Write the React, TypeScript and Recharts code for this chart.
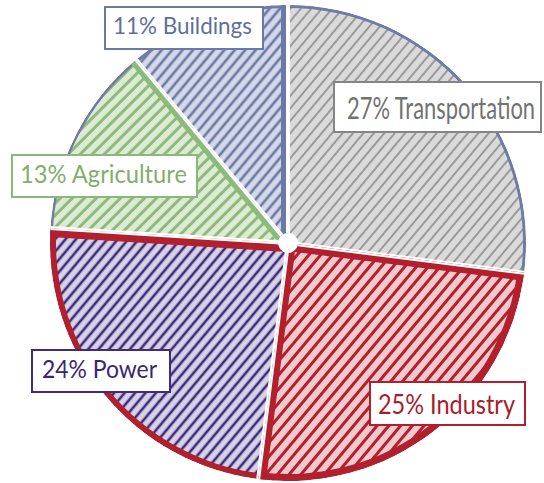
import React from 'react';
import { PieChart, Pie, Sector } from 'recharts';

// sector shares, clockwise from 12 o'clock
const categories = ['Transportation', 'Industry', 'Power', 'Agriculture', 'Buildings'];
const shares = [27, 25, 24, 13, 11];

const data = categories.map((name, i) => ({ name, value: shares[i] }));

const GAP = 4;
const RAD = Math.PI / 180;

type Edge = { color: string; width: number } | null;

interface SliceStyle {
  bg: string;
  line: string;
  lineWidth: number;
  spacing: number;
  rotate: number;
  arc: string;
  arcWidth: number;
  startEdge: Edge;
  endEdge: Edge;
}

const SLICE_STYLES: SliceStyle[] = [
  { bg: '#dadada', line: '#8a8a8a', lineWidth: 1.6, spacing: 8, rotate: 40, arc: '#6e7ba6', arcWidth: 3, startEdge: null, endEdge: null },
  { bg: '#f2cacd', line: '#b21f2d', lineWidth: 3, spacing: 9, rotate: 40, arc: '#b21f2d', arcWidth: 7, startEdge: { color: '#b21f2d', width: 6 }, endEdge: { color: '#b21f2d', width: 6 } },
  { bg: '#d7d3e6', line: '#3f2a7c', lineWidth: 2.6, spacing: 8, rotate: 40, arc: '#b21f2d', arcWidth: 6, startEdge: null, endEdge: { color: '#b21f2d', width: 7 } },
  { bg: '#ddebd4', line: '#8cba7a', lineWidth: 3, spacing: 8.5, rotate: 45, arc: '#6e7ba6', arcWidth: 2.5, startEdge: null, endEdge: { color: '#8cba7a', width: 5 } },
  { bg: '#d4d8e7', line: '#6a79a6', lineWidth: 2.6, spacing: 8, rotate: 40, arc: '#6e7ba6', arcWidth: 3, startEdge: null, endEdge: { color: '#6a79a6', width: 5 } },
];

// label boxes (same order as categories); sy stretches the text vertically
const LABEL_LAYOUT = [
  { x: 334, y: 82, w: 207, h: 50, tx: 347, ty: 119, tw: 188, fs: 23, sy: 1.3, color: '#858585', text: '#727272' },
  { x: 370, y: 382, w: 155, h: 43, tx: 378, ty: 414, tw: 137, fs: 27, sy: 1, color: '#b01f2b', text: '#a81c2a' },
  { x: 32, y: 350, w: 138, h: 42, tx: 42, ty: 378, tw: 115, fs: 25, sy: 1, color: '#3f2b7a', text: '#3a2774' },
  { x: 12, y: 155, w: 185, h: 42, tx: 20, ty: 183, tw: 167, fs: 25, sy: 1, color: '#8ab87a', text: '#7fb06a' },
  { x: 105, y: 7, w: 158, h: 42, tx: 113, ty: 34, tw: 139, fs: 24, sy: 1, color: '#6a79a6', text: '#5f6e9c' },
];

const polar = (cx: number, cy: number, r: number, angle: number) => ({
  x: cx + r * Math.cos(-angle * RAD),
  y: cy + r * Math.sin(-angle * RAD),
});

const HatchedSlice = (props: any) => {
  const { cx, cy, innerRadius, outerRadius, startAngle, endAngle, index } = props;
  const s = SLICE_STYLES[index];
  const clipId = `slice-clip-${index}`;
  const geom = { cx, cy, startAngle, endAngle };

  const edge = (angle: number, color: string, width: number, key: string) => {
    const p = polar(cx, cy, outerRadius + 12, angle);
    return <line key={key} x1={cx} y1={cy} x2={p.x} y2={p.y} stroke={color} strokeWidth={width} />;
  };

  return (
    <g>
      <defs>
        <clipPath id={clipId}>
          <Sector {...geom} innerRadius={innerRadius} outerRadius={outerRadius} />
        </clipPath>
      </defs>
      <g clipPath={`url(#${clipId})`}>
        <Sector {...geom} innerRadius={innerRadius} outerRadius={outerRadius} fill={`url(#hatch-${index})`} stroke="none" />
        <Sector {...geom} innerRadius={outerRadius - s.arcWidth} outerRadius={outerRadius} fill={s.arc} stroke="none" />
        {s.startEdge && edge(startAngle, s.startEdge.color, GAP + 2 * s.startEdge.width, 'se')}
        {s.endEdge && edge(endAngle, s.endEdge.color, GAP + 2 * s.endEdge.width, 'ee')}
        {edge(startAngle, '#ffffff', GAP, 'gs')}
        {edge(endAngle, '#ffffff', GAP, 'ge')}
      </g>
    </g>
  );
};

const LabelBox = (props: any) => {
  const { index, value } = props;
  const name = props.payload?.name ?? props.name;
  const l = LABEL_LAYOUT[index];
  return (
    <g>
      <rect x={l.x} y={l.y} width={l.w} height={l.h} fill="#ffffff" stroke={l.color} strokeWidth={2} />
      <text
        x={0}
        y={0}
        transform={`translate(${l.tx} ${l.ty}) scale(1 ${l.sy})`}
        fontSize={l.fs}
        fill={l.text}
        fontFamily="Lato, 'Noto Sans', sans-serif"
        textLength={l.tw}
        lengthAdjust="spacingAndGlyphs"
      >
        {`${value}% ${name}`}
      </text>
    </g>
  );
};

const EmissionsPie: React.FC = () => {
  return (
    <div style={{ position: 'absolute', left: 0, top: 0, width: 544, height: 483, background: '#ffffff' }}>
      <PieChart width={544} height={483} margin={{ top: 0, right: 0, bottom: 0, left: 0 }}>
        <defs>
          {SLICE_STYLES.map((s, i) => (
            <pattern
              key={i}
              id={`hatch-${i}`}
              width={s.spacing}
              height={s.spacing}
              patternUnits="userSpaceOnUse"
              patternTransform={`rotate(${s.rotate})`}
            >
              <rect width={s.spacing} height={s.spacing} fill={s.bg} />
              <line x1={s.spacing / 2} y1={0} x2={s.spacing / 2} y2={s.spacing} stroke={s.line} strokeWidth={s.lineWidth} />
            </pattern>
          ))}
        </defs>
        <Pie
          data={data}
          dataKey="value"
          nameKey="name"
          cx={288}
          cy={243}
          innerRadius={10}
          outerRadius={238}
          startAngle={90}
          endAngle={-270}
          fill="none"
          stroke="none"
          label={HatchedSlice}
          labelLine={false}
          isAnimationActive={false}
        />
        <Pie
          data={data}
          dataKey="value"
          nameKey="name"
          cx={288}
          cy={243}
          innerRadius={10}
          outerRadius={238}
          startAngle={90}
          endAngle={-270}
          fill="none"
          stroke="none"
          label={LabelBox}
          labelLine={false}
          isAnimationActive={false}
        />
      </PieChart>
    </div>
  );
};

export default function App() {
  return <EmissionsPie />;
}
